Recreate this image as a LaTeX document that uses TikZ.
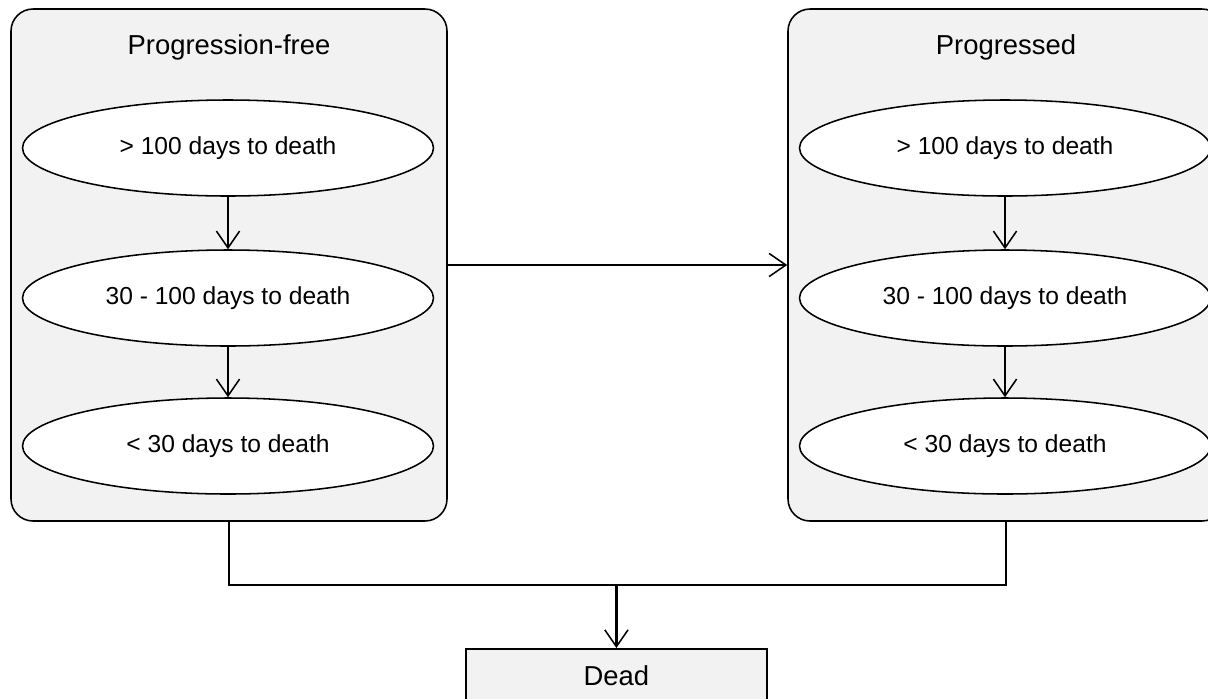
\documentclass[tikz,border=0pt]{standalone}
\usepackage{fontspec}
\setmainfont{Liberation Sans}
\usetikzlibrary{arrows.meta,shapes.geometric}
\definecolor{boxgray}{HTML}{F2F2F2}
\tikzset{
	statebox/.style={draw, line width=1.1pt, fill=boxgray, rounded corners=0.55cm, minimum width=10.9cm, minimum height=12.8cm},
	substate/.style={draw, line width=1.1pt, fill=white, ellipse, inner sep=0pt, minimum width=10.275cm, minimum height=2.4cm},
	flow/.style={line width=1.1pt, -{Straight Barb[length=4.2mm,width=5.8mm,line width=1.1pt]}},
	lbl/.style={font=\fontsize{17.5}{21}\selectfont},
	ttl/.style={font=\fontsize{19.5}{23}\selectfont}
}
\begin{document}
\begin{tikzpicture}
			%%%%% START %%%%%
			\useasboundingbox (0, 0) rectangle (30.2, -17.45);
			\clip (0, 0) rectangle (30.2, -17.45);
			
			\node[statebox] (pf) at (5.725, -6.625) {};
			\node[ttl] (pftitle) at ([yshift=-0.975cm]pf.north) {Progression-free};
			\node[substate, lbl] (pfa) at (5.7, -3.7) {> 100 days to death};
			\node[substate, lbl] (pfb) at (5.7, -7.45) {30 - 100 days to death};
			\node[substate, lbl] (pfc) at (5.7, -11.15) {< 30 days to death};
			
			\node[statebox] (pp) at (25.15, -6.625) {};
			\node[ttl] (pptitle) at ([yshift=-0.975cm]pp.north) {Progressed};
			\node[substate, lbl] (ppa) at (25.125, -3.7) {> 100 days to death};
			\node[substate, lbl] (ppb) at (25.125, -7.45) {30 - 100 days to death};
			\node[substate, lbl] (ppc) at (25.125, -11.15) {< 30 days to death};
			
			\node[draw, line width=1.1pt, fill=boxgray, minimum width=7.525cm, minimum height=1.5cm, anchor=north] (dead) at (15.41, -16.2) {};
			\node[ttl] (deadtitle) at ([yshift=-0.7cm]dead.north) {Dead};
			
			\draw[flow] (pfa) -- (pfb);
			\draw[flow] (pfb) -- (pfc);
			\draw[flow] (ppa) -- (ppb);
			\draw[flow] (ppb) -- (ppc);
			\draw[flow] (pf.east) -- (pp.west);
			
			\coordinate (join) at ([yshift=1.575cm]dead.north);
			\draw[line width=1.1pt] (pf.south) |- (join);
			\draw[line width=1.1pt] (pp.south) |- (join);
			\draw[flow, line width=1.8pt] (join) -- (dead.north);
			%%%%% END %%%%%
\end{tikzpicture}
\end{document}
